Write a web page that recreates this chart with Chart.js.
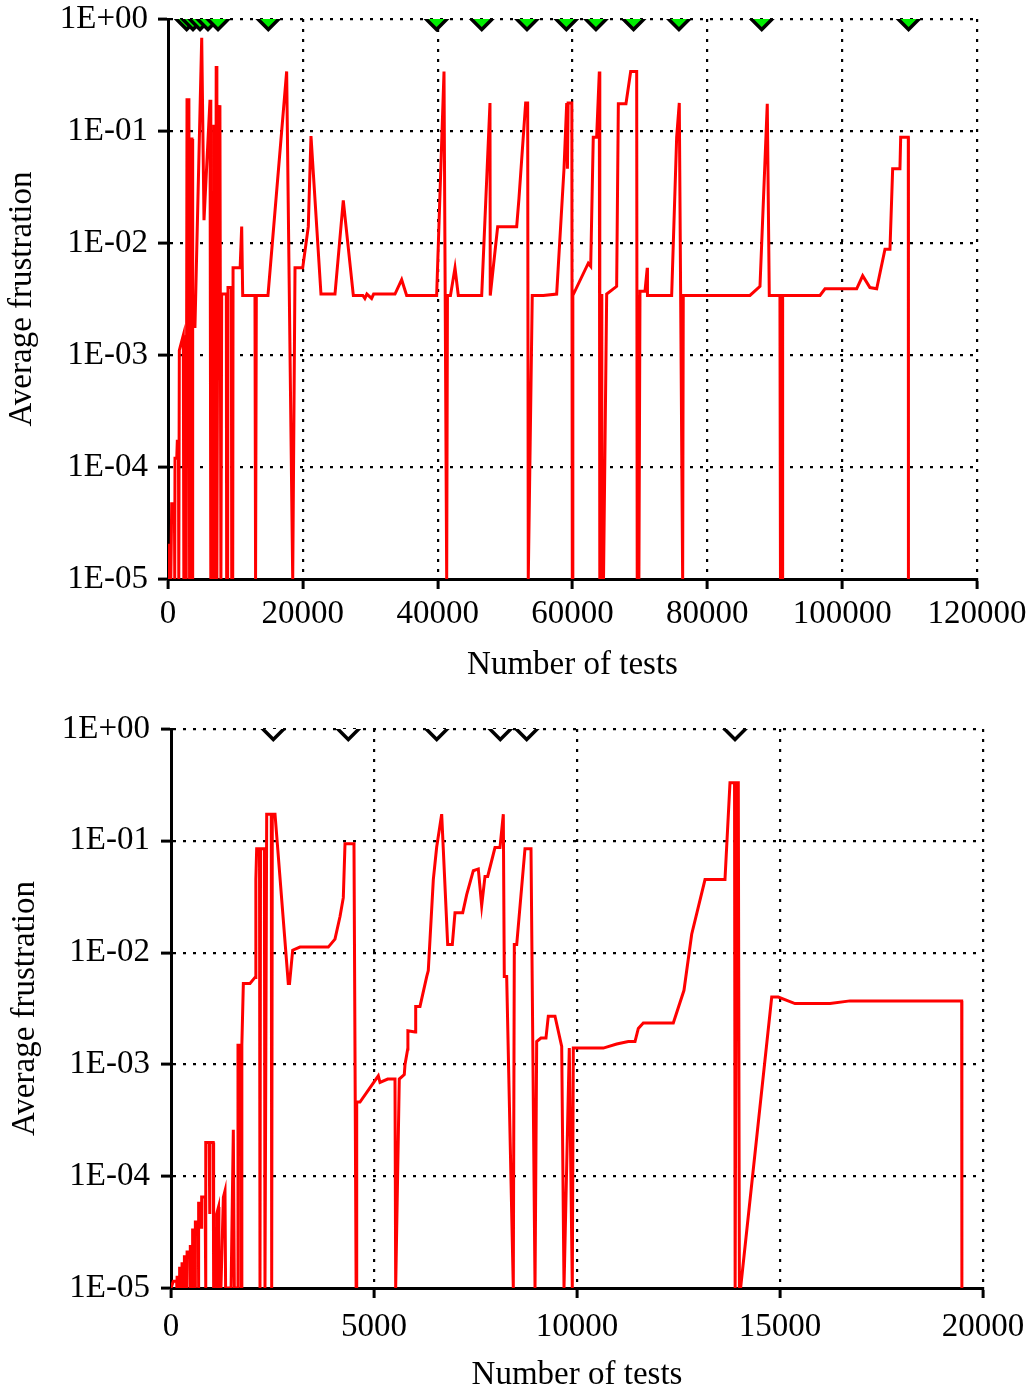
<!DOCTYPE html>
<html>
<head>
<meta charset="utf-8">
<script src="https://cdn.jsdelivr.net/npm/chart.js@4.4.1/dist/chart.umd.min.js"></script>
<style>
html,body{margin:0;padding:0;background:#fff;overflow:hidden;width:1030px;height:1387px;position:relative}
canvas{position:absolute;left:0}
#c1{top:-20px}
#c2{top:680px}
</style>
</head>
<body>
<canvas id="c1" width="1080" height="720"></canvas>
<canvas id="c2" width="1080" height="740"></canvas>
<script>
// ---------- DATA ----------
const yTicks = [1e-5, 1e-4, 1e-3, 1e-2, 1e-1, 1];
const yTickLabels = ['1E-05', '1E-04', '1E-03', '1E-02', '1E-01', '1E+00'];

const topXTicks = [0, 20000, 40000, 60000, 80000, 100000, 120000];
const topXTickLabels = ['0', '20000', '40000', '60000', '80000', '100000', '120000'];
const bottomXTicks = [0, 5000, 10000, 15000, 20000];
const bottomXTickLabels = ['0', '5000', '10000', '15000', '20000'];

const xTitle = 'Number of tests';
const yTitle = 'Average frustration';

// top chart: number of tests
const topTests = [
  0, 100, 380, 420, 550, 950, 1000, 1040, 1300, 1380, 1550, 1600, 1680, 2000, 2270, 2350,
  2700, 2820, 3100, 3200, 3260, 3560, 3620, 3700, 4000, 5000, 5340, 6230, 6350, 6480, 6700,
  6800, 6960, 7050, 7150, 7250, 7450, 7700, 7850, 7965, 8650, 8700, 8850, 8900, 9400, 9450,
  9600, 9650, 10700, 10930, 11080, 12900, 12990, 13100, 14830, 17600, 18500, 18840, 19980,
  20810, 21210, 22690, 24770, 26000, 27490, 28900, 29200, 29500, 30200, 30500, 33670, 34660,
  35400, 39850, 40940, 41340, 41450, 41900, 42570, 43060, 46530, 47760, 47800, 48900, 51720,
  52060, 53050, 53350, 53440, 54030, 55670, 57650, 58740, 59140, 59250, 59350, 59900, 59970,
  60050, 62340, 62700, 63080, 63580, 63980, 64050, 64250, 64350, 64600, 65070, 66550, 66800,
  67930, 68630, 69520, 69600, 69750, 69850, 70010, 70750, 71090, 71120, 74710, 75450, 75840,
  76340, 76430, 86320, 87810, 88890, 89190, 90770, 90850, 91100, 91170, 96710, 97450, 102150,
  103040, 104120, 105120, 106350, 107090, 107490, 108570, 108680, 109810, 109830
];
// top chart: average frustration
const topFrustration = [
  1e-5, 2e-5, 2e-5, 1e-5, 4.7e-5, 4.7e-5, 1e-5, 1.2e-4, 1.2e-4, 1.7e-4, 1.7e-4, 1e-5, 1.1e-3, 1.3e-3, 1.5e-3, 1e-5,
  1e-5, 0.19, 0.19, 1e-5, 0.085, 0.085, 1e-5, 1.8e-3, 1.8e-3, 0.68, 0.016, 0.19, 1e-5, 0.029, 1e-5,
  0.11, 0.11, 1e-5, 0.38, 1e-5, 0.11, 0.17, 1e-5, 0.0035, 0.0035, 1e-5, 1e-5, 0.004, 0.004, 1e-5,
  1e-5, 0.006, 0.006, 0.014, 0.0034, 0.0034, 1e-5, 0.0034, 0.0034, 0.34, 1e-5, 0.006, 0.006,
  0.014, 0.09, 0.0035, 0.0035, 0.024, 0.0034, 0.0034, 0.0032, 0.0035, 0.0032, 0.0035, 0.0035, 0.0047,
  0.0034, 0.0034, 0.34, 1e-5, 0.0034, 0.0034, 0.006, 0.0034, 0.0034, 0.178, 0.0034, 0.014, 0.014,
  0.025, 0.178, 0.178, 1e-5, 0.0034, 0.0034, 0.0035, 0.046, 0.178, 0.046, 0.178, 0.178, 1e-5,
  0.0034, 0.0066, 0.0062, 0.088, 0.088, 0.34, 1e-5, 0.0035, 1e-5, 1e-5, 0.0035, 0.0041, 0.175,
  0.175, 0.34, 0.34, 1e-5, 0.0034, 1e-5, 0.0037, 0.0037, 0.006, 0.0034, 0.0034, 0.088, 0.178,
  1e-5, 0.0034, 0.0034, 0.0041, 0.175, 0.0034, 0.0034, 1e-5, 1e-5, 0.0034, 0.0034, 0.0039, 0.0039,
  0.0051, 0.004, 0.0039, 0.0088, 0.0088, 0.046, 0.046, 0.088, 0.088, 1e-5
];
const topMarkerTests = [2770, 3710, 4750, 5930, 7420, 14880, 39830, 46540, 53250, 59090, 63480, 69060, 75790, 88070, 109850];

// bottom chart: number of tests
const bottomTests = [
  0, 57, 140, 145, 150, 205, 210, 215, 263, 268, 272, 320, 325, 330, 386, 391, 396, 468, 473, 478,
  525, 530, 535, 591, 596, 600, 673, 678, 683, 700, 740, 755, 840, 850, 862, 940, 950, 960, 1040,
  1050, 1060, 1110, 1120, 1130, 1170, 1180, 1230, 1290, 1330, 1345, 1480, 1535, 1560, 1640, 1650,
  1720, 1730, 1745, 1782, 1946, 2069, 2090, 2110, 2180, 2192, 2205, 2300, 2315, 2357, 2470, 2480,
  2495, 2562, 2889, 2920, 2997, 3177, 3874, 4039, 4163, 4244, 4286, 4507, 4560, 4574, 4655, 5106,
  5148, 5337, 5517, 5534, 5623, 5746, 5764, 5830, 5835, 6010, 6027, 6133, 6298, 6337, 6461, 6544,
  6667, 6815, 6929, 6995, 7185, 7283, 7446, 7569, 7652, 7734, 7800, 7980, 8103, 8185, 8209, 8268,
  8431, 8456, 8515, 8719, 8867, 8966, 9007, 9113, 9236, 9293, 9458, 9623, 9680, 9810, 9884, 9909,
  10648, 10978, 11264, 11429, 11510, 11633, 12372, 12635, 12825, 13153, 13645, 13768, 13880, 13895,
  13930, 13973, 14000, 14030, 14796, 14958, 15369, 16232, 16724, 19475, 19480
];
// bottom chart: average frustration
const bottomFrustration = [
  1e-5, 1.15e-5, 1.15e-5, 1e-5, 1.25e-5, 1.25e-5, 1e-5, 1.5e-5, 1.5e-5, 1e-5, 1.65e-5, 1.65e-5, 1e-5, 1.9e-5, 1.9e-5, 1e-5, 2.1e-5, 2.1e-5, 1e-5, 2.35e-5,
  2.35e-5, 1e-5, 3.3e-5, 3.3e-5, 1e-5, 3.9e-5, 3.9e-5, 1e-5, 5.9e-5, 3.5e-5, 3.5e-5, 6.5e-5, 6.5e-5, 1e-5, 2e-4, 2e-4, 4.6e-5, 2e-4, 2e-4,
  1e-5, 3.4e-5, 3.4e-5, 1e-5, 4.6e-5, 5.3e-5, 1e-5, 1e-5, 6.5e-5, 7.4e-5, 1e-5, 1e-5, 2.6e-4, 1e-5, 1e-5, 1.48e-3,
  1.48e-3, 1e-5, 1.48e-3, 5.3e-3, 5.3e-3, 6.0e-3, 0.045, 0.085, 0.085, 1e-5, 0.085, 0.085, 1e-5, 0.173, 0.173, 1e-5,
  0.173, 0.173, 5.3e-3, 5.3e-3, 0.0105, 0.0112, 0.0112, 0.0132, 0.021, 0.031, 0.094, 0.094, 1e-5, 4.6e-4, 4.6e-4, 7.9e-4,
  6.9e-4, 7.4e-4, 7.4e-4, 1e-5, 7.4e-4, 8.1e-4, 1.0e-3, 1.37e-3, 2.0e-3, 1.95e-3, 3.3e-3, 3.3e-3, 6.1e-3, 6.9e-3, 0.045, 0.088,
  0.173, 0.0118, 0.0118, 0.0227, 0.0227, 0.033, 0.054, 0.056, 0.0263, 0.048, 0.048, 0.087, 0.087, 0.173, 6.1e-3, 6.1e-3,
  1e-5, 0.0118, 0.0118, 0.085, 0.085, 1e-5, 1.6e-3, 1.72e-3, 1.72e-3, 2.7e-3, 2.7e-3, 1.45e-3, 1e-5, 1.4e-3, 1e-5, 1.4e-3,
  1.4e-3, 1.52e-3, 1.6e-3, 1.6e-3, 2.1e-3, 2.35e-3, 2.35e-3, 4.6e-3, 0.0146, 0.045, 0.045, 0.33, 0.33, 1e-5,
  0.33, 0.33, 1e-5, 1e-5, 4.0e-3, 4.0e-3, 3.5e-3, 3.5e-3, 3.7e-3, 3.7e-3, 1e-5
];
const bottomMarkerTests = [2520, 4367, 6545, 8111, 8761, 13892];
const markerLevel = 1; // markers sit on the 1E+00 line

// ---------- CHARTS ----------
Chart.defaults.font.family = "'Liberation Serif', 'DejaVu Serif', serif";
Chart.defaults.color = '#000';

const pts = (xs, ys) => xs.map((x, i) => ({x: x, y: ys[i]}));
const marks = xs => xs.map(x => ({x: x, y: markerLevel}));

function buildChart(id, o) {
  const tickFont = {family: "'Liberation Serif', 'DejaVu Serif', serif", size: 33};
  const titleFont = {family: "'Liberation Serif', 'DejaVu Serif', serif", size: 33};
  const grid = {color: '#000', lineWidth: 2.2, tickLength: 10, tickWidth: 3, tickColor: '#000', drawTicks: true};
  const border = {display: true, color: '#000', width: 3, dash: [3, 7]};
  return new Chart(document.getElementById(id), {
    type: 'line',
    data: {
      datasets: [
        {data: pts(o.xs, o.ys), borderColor: '#ff0000', borderWidth: 3, pointRadius: 0,
         tension: 0, fill: false, order: 2},
        {data: marks(o.markers), showLine: false, pointStyle: 'rectRot', pointRadius: 10.5,
         pointBorderWidth: 3.5, pointBackgroundColor: o.markerFill, pointBorderColor: '#000',
         clip: 0, order: 1}
      ]
    },
    options: {
      responsive: false, animation: false, events: [],
      layout: {padding: {top: o.top, right: o.right, left: 0, bottom: 0}},
      plugins: {legend: {display: false}, tooltip: {enabled: false}},
      scales: {
        x: {
          type: 'linear', min: 0, max: o.xTicks[o.xTicks.length - 1],
          afterBuildTicks: s => { s.ticks = o.xTicks.map(v => ({value: v})); },
          afterFit: s => { s.height = o.xHeight; },
          ticks: {callback: (v, i) => o.xLabels[i], font: tickFont, color: '#000',
                  padding: o.xPad, maxRotation: 0, autoSkip: false},
          grid: grid, border: border,
          title: {display: true, text: xTitle, font: titleFont, color: '#000',
                  padding: {top: 0, bottom: o.xTitlePad}}
        },
        y: {
          type: 'logarithmic', min: yTicks[0], max: yTicks[yTicks.length - 1],
          afterBuildTicks: s => { s.ticks = yTicks.map(v => ({value: v})); },
          afterFit: s => { s.width = o.yWidth; },
          ticks: {callback: (v, i) => yTickLabels[i], font: tickFont, color: '#000',
                  padding: o.yPad, autoSkip: false},
          grid: grid, border: border,
          title: {display: true, text: yTitle, font: titleFont, color: '#000',
                  padding: {top: o.yTitlePad, bottom: 0}}
        }
      }
    }
  });
}

buildChart('c1', {
  xs: topTests, ys: topFrustration, markers: topMarkerTests, markerFill: '#00ee00',
  xTicks: topXTicks, xLabels: topXTickLabels,
  top: 39, right: 103, xHeight: 121, yWidth: 168, xPad: 6, yPad: 10, xTitlePad: 15, yTitlePad: 3
});
buildChart('c2', {
  xs: bottomTests, ys: bottomFrustration, markers: bottomMarkerTests, markerFill: '#ffffff',
  xTicks: bottomXTicks, xLabels: bottomXTickLabels,
  top: 49, right: 97, xHeight: 132, yWidth: 171, xPad: 10, yPad: 11, xTitlePad: 25, yTitlePad: 6
});
</script>
</body>
</html>
